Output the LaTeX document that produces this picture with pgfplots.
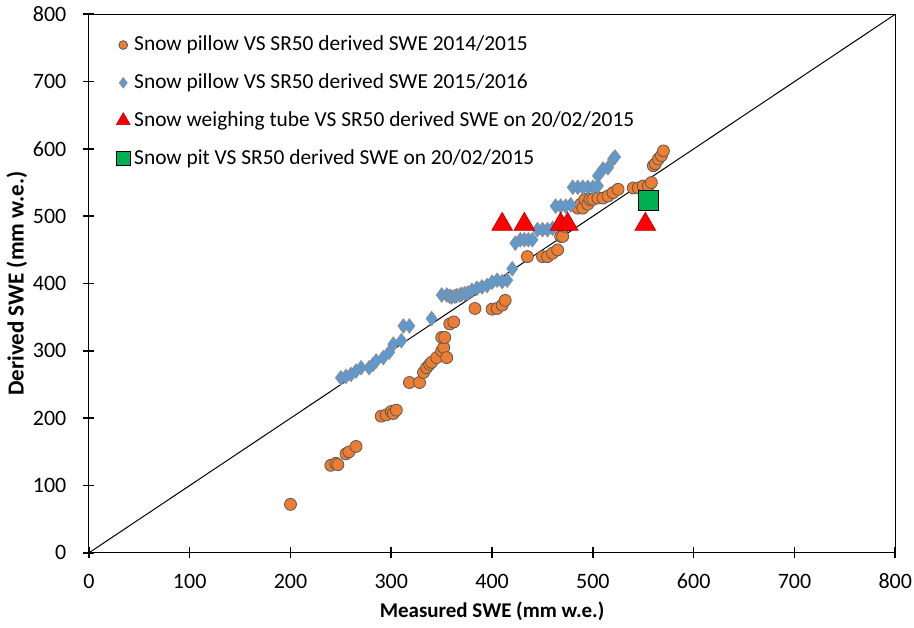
\documentclass[border=0pt]{standalone}
\usepackage{pgfplots}
\pgfplotsset{compat=1.18}
\usepackage{fontspec}
\setmainfont{Carlito}
\definecolor{xorange}{HTML}{ED7D31}
\definecolor{xblue}{HTML}{5B9BD5}
\definecolor{xgreen}{HTML}{00B050}
\begin{document}
\begin{tikzpicture}
\begin{axis}[
  scale only axis,
  width=403.5pt, height=269.5pt,
  xmin=0, xmax=800, ymin=0, ymax=800,
  xtick={0,100,...,800}, ytick={0,100,...,800},
  tick pos=left,
  tick align=center,
  major tick length=5.5pt,
  major tick style={draw=black, line width=0.8pt},
  xtick style={draw=black, line width=0.8pt},
  ytick style={draw=black, line width=0.8pt},
  axis line style={black, line width=0.6pt},
  /pgf/number format/assume math mode=true,
  ticklabel style={font=\fontsize{11}{12}\selectfont},
  xticklabel style={inner sep=1pt, yshift=-6.5pt},
  yticklabel style={xshift=-5pt},
  xlabel={\textbf{Measured SWE (mm w.e.)}},
  ylabel={\textbf{Derived SWE (mm w.e.)}},
  label style={font=\fontsize{10.5}{12}\selectfont},
  xlabel style={yshift=-2pt},
  ylabel style={yshift=-4pt, font=\fontsize{11.5}{13}\selectfont},
  legend style={draw=none, fill=none, at={(0.026,0.975)}, anchor=north west,
    font=\fontsize{10.7}{12.5}\selectfont, row sep=6pt,
    legend cell align=left},
  legend image code/.code={\draw[#1] plot coordinates {(0.2cm,0cm)};},
]
\addplot[forget plot, black, line width=0.5pt] coordinates {(0,0) (800,800)};

\addplot[only marks, mark=*, mark size=3pt, mark options={fill=xorange, draw=black!65, line width=0.4pt},
  legend image post style={mark size=2.2pt}] coordinates {
(200,72) (240,130) (245,133) (247,131) (255,147) (258,150) (265,158)
(290,203) (295,205) (300,210) (302,207) (305,212)
(318,253) (328,253)
(332,268) (335,275) (338,280) (340,283) (345,290) (350,300) (352,305) (355,290)
(350,320) (353,320) (358,340) (362,343)
(383,363) (400,362) (405,363) (410,368) (413,375)
(435,440) (450,440) (455,440) (460,445) (465,450) (468,470) (470,470) (472,485)
(485,512) (488,518) (490,512) (492,525) (495,518) (497,525) (500,525) (505,527) (510,527) (515,530) (520,535) (525,540)
(540,542) (545,542) (550,545) (555,545) (558,550) (560,575) (562,578) (565,585) (568,590) (570,597)
};
\addlegendentry{Snow pillow VS SR50 derived SWE 2014/2015}

\addplot[only marks, mark=diamond*, mark size=3.6pt, mark options={fill=xblue, draw=black!45, line width=0.4pt},
  legend image post style={mark size=2.6pt}] coordinates {
(250,260) (255,262) (260,265) (265,270) (270,275) (278,275) (282,280) (285,285) (292,290) (298,298) (302,310) (310,315) (312,337) (318,337)
(340,348)
(350,383) (355,383) (358,381) (360,380) (363,381) (365,382) (368,383) (370,384) (373,385) (376,386) (380,390) (385,393) (390,395) (395,397) (400,402) (405,405) (410,403) (415,405) (420,422)
(423,460) (428,465) (432,465) (436,465) (440,465)
(445,480) (450,480) (455,480) (460,482)
(463,515) (468,515) (473,515) (478,517)
(480,543) (485,543) (490,543) (495,543) (500,543) (505,545)
(505,560) (510,570) (515,572) (520,585) (522,588)
};
\addlegendentry{Snow pillow VS SR50 derived SWE 2015/2016}

\addplot[only marks, mark=triangle*, mark size=6pt, mark options={fill=red, draw=red!70!black, line width=0.3pt},
  legend image post style={mark size=4pt}] coordinates {
(410,488) (432,488) (468,488) (475,488) (552,488)
};
\addlegendentry{Snow weighing tube VS SR50 derived SWE on 20/02/2015}

\addplot[only marks, mark=square*, mark size=5pt, mark options={fill=xgreen, draw=black, line width=0.5pt},
  legend image post style={mark size=3.5pt}] coordinates {
(555,523)
};
\addlegendentry{Snow pit VS SR50 derived SWE on 20/02/2015}
\end{axis}
\end{tikzpicture}
\end{document}
